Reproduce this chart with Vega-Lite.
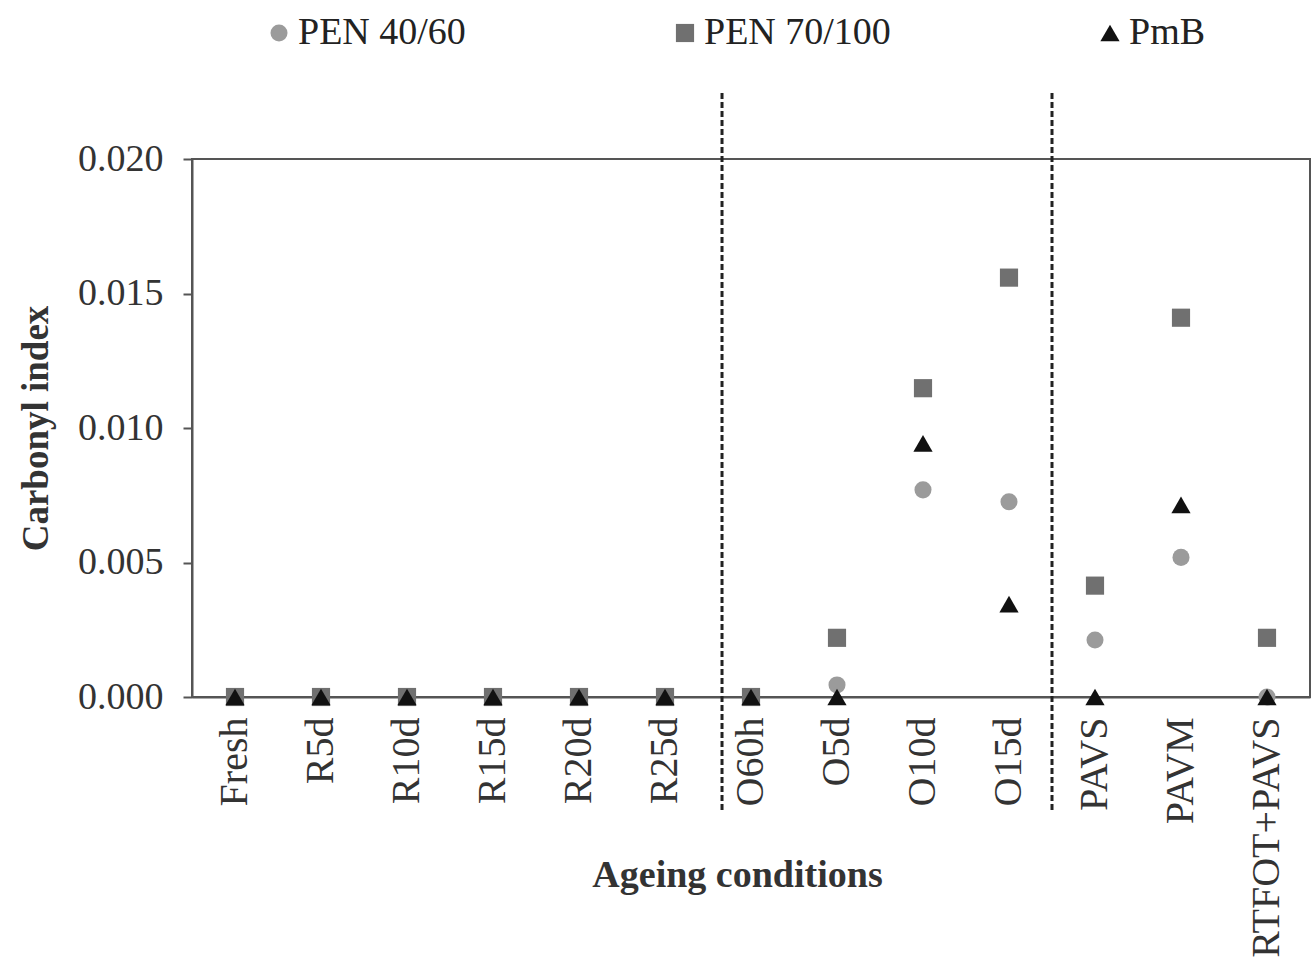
{
  "$schema": "https://vega.github.io/schema/vega-lite/v6.json",
  "width": 1118,
  "height": 538,
  "autosize": {"type": "none"},
  "padding": {"left": 192, "top": 159, "right": 2, "bottom": 274},
  "background": "white",
  "config": {
    "font": "Liberation Serif",
    "view": {"stroke": "#555", "strokeWidth": 2},
    "axis": {
      "labelFont": "Liberation Serif",
      "titleFont": "Liberation Serif",
      "labelColor": "#333",
      "titleColor": "#333",
      "domainColor": "#555",
      "domainWidth": 2,
      "tickColor": "#555",
      "tickWidth": 2,
      "grid": false
    }
  },
  "layer": [
    {
      "data": {
        "values": [
          {"condition": "Fresh", "binder": "PEN 40/60", "carbonyl_index": 0},
          {"condition": "R5d", "binder": "PEN 40/60", "carbonyl_index": 0},
          {"condition": "R10d", "binder": "PEN 40/60", "carbonyl_index": 0},
          {"condition": "R15d", "binder": "PEN 40/60", "carbonyl_index": 0},
          {"condition": "R20d", "binder": "PEN 40/60", "carbonyl_index": 0},
          {"condition": "R25d", "binder": "PEN 40/60", "carbonyl_index": 0},
          {"condition": "O60h", "binder": "PEN 40/60", "carbonyl_index": 0},
          {"condition": "O5d", "binder": "PEN 40/60", "carbonyl_index": 0.00045},
          {"condition": "O10d", "binder": "PEN 40/60", "carbonyl_index": 0.0077},
          {"condition": "O15d", "binder": "PEN 40/60", "carbonyl_index": 0.00726},
          {"condition": "PAVS", "binder": "PEN 40/60", "carbonyl_index": 0.00212},
          {"condition": "PAVM", "binder": "PEN 40/60", "carbonyl_index": 0.00519},
          {"condition": "RTFOT+PAVS", "binder": "PEN 40/60", "carbonyl_index": 0},
          {"condition": "Fresh", "binder": "PEN 70/100", "carbonyl_index": 0},
          {"condition": "R5d", "binder": "PEN 70/100", "carbonyl_index": 0},
          {"condition": "R10d", "binder": "PEN 70/100", "carbonyl_index": 0},
          {"condition": "R15d", "binder": "PEN 70/100", "carbonyl_index": 0},
          {"condition": "R20d", "binder": "PEN 70/100", "carbonyl_index": 0},
          {"condition": "R25d", "binder": "PEN 70/100", "carbonyl_index": 0},
          {"condition": "O60h", "binder": "PEN 70/100", "carbonyl_index": 0},
          {"condition": "O5d", "binder": "PEN 70/100", "carbonyl_index": 0.0022},
          {"condition": "O10d", "binder": "PEN 70/100", "carbonyl_index": 0.01148},
          {"condition": "O15d", "binder": "PEN 70/100", "carbonyl_index": 0.01559},
          {"condition": "PAVS", "binder": "PEN 70/100", "carbonyl_index": 0.00414},
          {"condition": "PAVM", "binder": "PEN 70/100", "carbonyl_index": 0.0141},
          {"condition": "RTFOT+PAVS", "binder": "PEN 70/100", "carbonyl_index": 0.0022},
          {"condition": "Fresh", "binder": "PmB", "carbonyl_index": 0},
          {"condition": "R5d", "binder": "PmB", "carbonyl_index": 0},
          {"condition": "R10d", "binder": "PmB", "carbonyl_index": 0},
          {"condition": "R15d", "binder": "PmB", "carbonyl_index": 0},
          {"condition": "R20d", "binder": "PmB", "carbonyl_index": 0},
          {"condition": "R25d", "binder": "PmB", "carbonyl_index": 0},
          {"condition": "O60h", "binder": "PmB", "carbonyl_index": 0},
          {"condition": "O5d", "binder": "PmB", "carbonyl_index": 0},
          {"condition": "O10d", "binder": "PmB", "carbonyl_index": 0.00943},
          {"condition": "O15d", "binder": "PmB", "carbonyl_index": 0.00345},
          {"condition": "PAVS", "binder": "PmB", "carbonyl_index": 0},
          {"condition": "PAVM", "binder": "PmB", "carbonyl_index": 0.00714},
          {"condition": "RTFOT+PAVS", "binder": "PmB", "carbonyl_index": 0}
        ]
      },
      "mark": {"type": "point", "filled": true, "opacity": 1, "strokeWidth": 0},
      "encoding": {
        "x": {
          "field": "condition",
          "type": "nominal",
          "scale": {
            "type": "band",
            "domain": ["Fresh", "R5d", "R10d", "R15d", "R20d", "R25d", "O60h", "O5d", "O10d", "O15d", "PAVS", "PAVM", "RTFOT+PAVS"],
            "paddingInner": 0,
            "paddingOuter": 0
          },
          "axis": {
            "title": "Ageing conditions",
            "titleFontSize": 38,
            "titleFontWeight": "bold",
            "titleX": 545,
            "titleY": 178,
            "titleBaseline": "middle",
            "labelAngle": -90,
            "labelFontSize": 40,
            "labelPadding": 20,
            "labelLimit": 600,
            "ticks": false
          }
        },
        "y": {
          "field": "carbonyl_index",
          "type": "quantitative",
          "scale": {"domain": [0, 0.02], "nice": false},
          "axis": {
            "title": "Carbonyl index",
            "titleFontSize": 37,
            "titleFontWeight": "bold",
            "titlePadding": 22,
            "values": [0, 0.005, 0.01, 0.015, 0.02],
            "format": ".3f",
            "labelFontSize": 38,
            "labelPadding": 20,
            "tickSize": 9
          }
        },
        "color": {
          "field": "binder",
          "type": "nominal",
          "scale": {"domain": ["PEN 40/60", "PEN 70/100", "PmB"], "range": ["#9b9b9b", "#707070", "#111111"]},
          "legend": {
            "orient": "none",
            "legendX": 68,
            "legendY": -145,
            "direction": "horizontal",
            "title": null,
            "columnPadding": 200,
            "labelFontSize": 38,
            "labelFont": "Liberation Serif",
            "labelColor": "#222",
            "labelOffset": 0,
            "labelLimit": 600,
            "symbolSize": 140,
            "symbolStrokeWidth": 0
          }
        },
        "shape": {
          "field": "binder",
          "type": "nominal",
          "scale": {"domain": ["PEN 40/60", "PEN 70/100", "PmB"], "range": ["circle", "square", "triangle-up"]}
        },
        "size": {
          "field": "binder",
          "type": "nominal",
          "scale": {"domain": ["PEN 40/60", "PEN 70/100", "PmB"], "range": [290, 370, 340]},
          "legend": null
        }
      }
    },
    {
      "data": {"values": [{"condition": "O60h"}]},
      "mark": {"type": "rule", "strokeDash": [6, 3], "strokeWidth": 3, "color": "#222"},
      "encoding": {
        "x": {"field": "condition", "type": "nominal", "bandPosition": 0.163},
        "y": {"datum": 0.02245},
        "y2": {"datum": -0.0042}
      }
    },
    {
      "data": {"values": [{"condition": "PAVS"}]},
      "mark": {"type": "rule", "strokeDash": [6, 3], "strokeWidth": 3, "color": "#222"},
      "encoding": {
        "x": {"field": "condition", "type": "nominal", "bandPosition": 0},
        "y": {"datum": 0.02245},
        "y2": {"datum": -0.0042}
      }
    }
  ]
}
